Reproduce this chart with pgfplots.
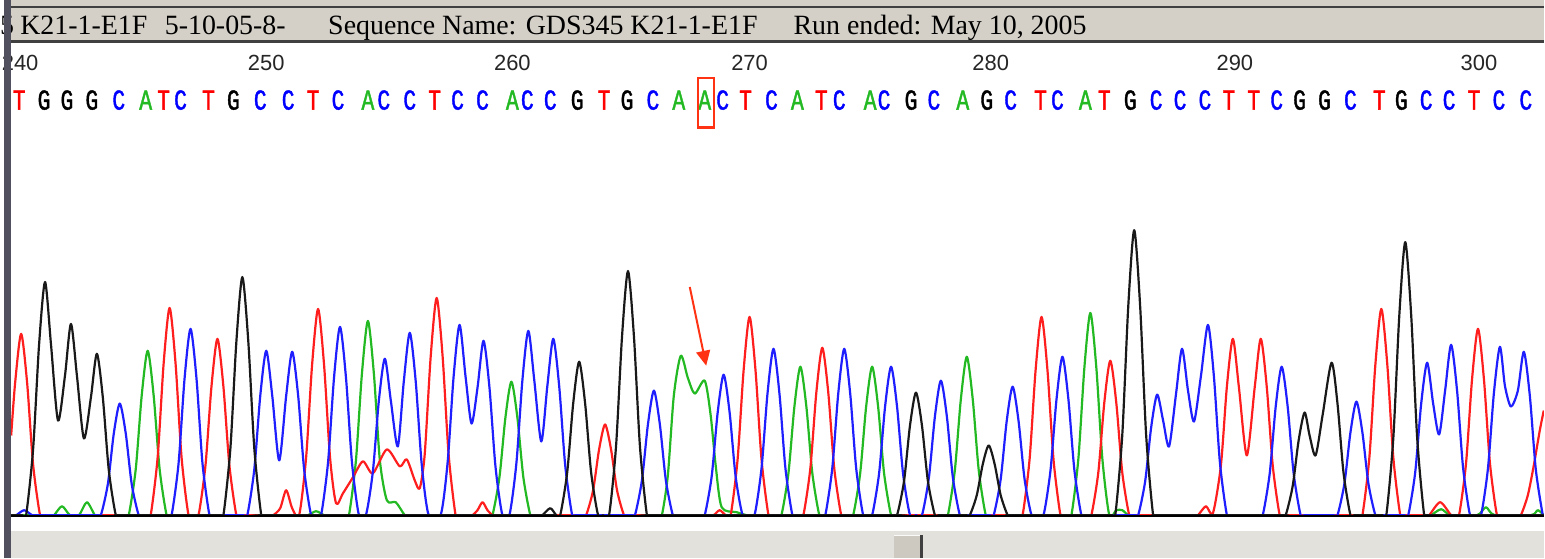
\documentclass[border=0pt]{standalone}
\usepackage{pgfplots}
\pgfplotsset{compat=1.18}
\usetikzlibrary{arrows.meta}
\usepackage{fontspec}
\newfontfamily\hdr{Liberation Serif}
\newfontfamily\numf{Liberation Sans}
\newfontfamily\basef[FakeStretch=0.74,FakeBold=1.3]{Liberation Mono}
\definecolor{cT}{RGB}{255,30,30}
\definecolor{cC}{RGB}{30,30,255}
\definecolor{cA}{RGB}{34,185,34}
\definecolor{cG}{RGB}{25,25,25}
\definecolor{hgray}{RGB}{212,208,200}
\definecolor{strip}{RGB}{80,80,94}
\definecolor{botgray}{RGB}{227,225,220}
\definecolor{thumb}{RGB}{205,201,193}
\definecolor{arr}{RGB}{255,50,20}
\newcommand\bl[3]{\node[anchor=base,inner sep=0pt,text=#3,font=\basef\fontsize{29}{29}\selectfont] at (axis cs:#1,407) {#2};}
\newcommand\nm[2]{\node[anchor=base,inner sep=0pt,text=black!85,font=\numf\fontsize{22}{22}\selectfont] at (axis cs:#1,446) {#2};}
\pgfplotsset{trace/.style={line width=2.2pt,line join=round,smooth,tension=0.45}}
\begin{document}
\begin{tikzpicture}
\begin{axis}[x=1pt,y=1pt,xmin=0,xmax=1545,ymin=-43,ymax=517,hide axis,clip=false,at={(0pt,0pt)},anchor=origin]
% backgrounds
\fill[white] (axis cs:0,-43) rectangle (axis cs:1545,517);
\fill[botgray] (axis cs:0,-43) rectangle (axis cs:1545,-16);
\fill[thumb] (axis cs:893,-43) rectangle (axis cs:921,-20);
\fill[white!90!thumb] (axis cs:893,-21) rectangle (axis cs:921,-20);
\fill[black!75] (axis cs:919,-43) rectangle (axis cs:922,-20);
\fill[hgray] (axis cs:0,474) rectangle (axis cs:1545,517);
\fill[black!75] (axis cs:0,508.5) rectangle (axis cs:1545,510.5);
\fill[black!75] (axis cs:0,474) rectangle (axis cs:1545,476.5);
% header text
\node[anchor=base east,inner sep=0pt,font=\hdr\fontsize{28}{30}\selectfont] at (axis cs:10,482) {5};
\node[anchor=base west,inner sep=0pt,font=\hdr\fontsize{28}{30}\selectfont] at (axis cs:16,482) {K21-1-E1F};
\node[anchor=base west,inner sep=0pt,font=\hdr\fontsize{28}{30}\selectfont] at (axis cs:161,482) {5-10-05-8-};
\node[anchor=base west,inner sep=0pt,font=\hdr\fontsize{28}{30}\selectfont] at (axis cs:325,482) {Sequence Name: GDS345 K21-1-E1F};
\node[anchor=base west,inner sep=0pt,font=\hdr\fontsize{28}{30}\selectfont] at (axis cs:792,482) {Run ended: May 10, 2005};
% position numbers
\nm{16}{240}\nm{263}{250}\nm{510}{260}\nm{748}{270}\nm{990}{280}\nm{1235}{290}\nm{1480}{300}
% base calls
\bl{15}{T}{red}\bl{40}{G}{black}\bl{63}{G}{black}\bl{88}{G}{black}\bl{115}{C}{blue}
\bl{142}{A}{cA}\bl{160}{T}{red}\bl{177}{C}{blue}\bl{205}{T}{red}\bl{230}{G}{black}
\bl{257}{C}{blue}\bl{285}{C}{blue}\bl{310}{T}{red}\bl{335}{C}{blue}\bl{365}{A}{cA}
\bl{381}{C}{blue}\bl{407}{C}{blue}\bl{432}{T}{red}\bl{455}{C}{blue}\bl{480}{C}{blue}
\bl{510}{A}{cA}\bl{525}{C}{blue}\bl{548}{C}{blue}\bl{575}{G}{black}\bl{602}{T}{red}
\bl{625}{G}{black}\bl{651}{C}{blue}\bl{677}{A}{cA}\bl{703}{A}{cA}\bl{721}{C}{blue}
\bl{744}{T}{red}\bl{770}{C}{blue}\bl{796}{A}{cA}\bl{820}{T}{red}\bl{838}{C}{blue}
\bl{869}{A}{cA}\bl{883}{C}{blue}\bl{910}{G}{black}\bl{933}{C}{blue}\bl{962}{A}{cA}
\bl{986}{G}{black}\bl{1010}{C}{blue}\bl{1040}{T}{red}\bl{1057}{C}{blue}\bl{1085}{A}{cA}
\bl{1104}{T}{red}\bl{1130}{G}{black}\bl{1156}{C}{blue}\bl{1180}{C}{blue}\bl{1205}{C}{blue}
\bl{1229}{T}{red}\bl{1254}{T}{red}\bl{1277}{C}{blue}\bl{1300}{G}{black}\bl{1325}{G}{black}
\bl{1351}{C}{blue}\bl{1380}{T}{red}\bl{1402}{G}{black}\bl{1427}{C}{blue}\bl{1450}{C}{blue}
\bl{1475}{T}{red}\bl{1500}{C}{blue}\bl{1527}{C}{blue}
% highlight box
\draw[line width=2.2pt,arr] (axis cs:696,389) rectangle (axis cs:712,439);
\end{axis}
\begin{axis}[x=1pt,y=1pt,xmin=0,xmax=1545,ymin=0,ymax=474,hide axis,clip mode=individual,at={(0pt,0pt)},anchor=origin]
\addplot[cA,trace] coordinates {
(7,0)(46,0)(50,0)(58,9)(66,0)(75,0)(83,13)(91,0)(95,0)
(121,0)(125,0)(132,46)(138,120)(144,165)(150,120)(156,46)(163,0)(167,0)
(301,0)(305,0)(313,4)(321,0)(325,0)
(342,0)(346,0)(353,55)(359,142)(365,195)(371,142)(377,55)(384,15)(393,13)(402,0)(406,0)
(486,0)(490,0)(497,38)(503,98)(509,134)(515,98)(521,38)(528,0)(532,0)
(656,0)(660,0)(666,40)(672,120)(679,160)(686,138)(693,122)(703,135)(709,100)(714,50)(720,8)(735,3)(745,0)(749,0)
(776,0)(780,0)(787,42)(793,109)(799,149)(805,109)(811,42)(818,0)(822,0)
(848,0)(852,0)(859,42)(865,109)(871,149)(877,109)(883,42)(890,0)(894,0)
(943,0)(947,0)(954,45)(960,116)(966,159)(972,116)(978,45)(985,0)(989,0)
(1067,0)(1071,0)(1078,57)(1084,148)(1090,203)(1096,148)(1102,57)(1109,0)(1116,5)(1122,5)(1128,0)(1132,0)
(1428,0)(1432,0)(1442,6)(1452,0)(1478,0)(1487,8)(1496,0)(1532,0)(1539,5)(1545,0)
};
\addplot[cT,trace] coordinates {
(7,80)(11,133)(17,182)(23,133)(29,51)(36,0)(40,0)
(143,0)(147,0)(154,58)(160,152)(166,208)(172,152)(178,58)(185,0)(190,0)
(195,0)(202,50)(208,129)(214,177)(220,129)(226,50)(233,0)(237,0)
(266,0)(270,0)(277,7)(283,25)(289,7)(296,0)
(303,58)(309,151)(315,207)(321,151)(327,58)(333,12)
(340,22)(350,38)(360,54)(370,42)(384,66)(397,49)(404,56)(412,35)(417,27)
(422,61)(428,159)(434,218)(440,159)(446,61)(453,0)(457,0)
(466,0)(470,0)(475,5)(480,13)(485,5)(490,0)(494,0)
(580,0)(584,0)(591,25)(597,66)(603,91)(609,66)(615,25)(622,0)(626,0)
(708,0)(712,0)(718,5)(724,0)
(729,0)(736,56)(742,145)(748,199)(754,145)(760,56)(767,0)(771,0)
(798,0)(802,0)(809,47)(815,123)(821,168)(827,123)(833,47)(840,0)(844,0)
(1018,0)(1022,0)(1029,56)(1035,145)(1041,199)(1047,145)(1053,56)(1060,0)(1064,0)
(1087,0)(1091,0)(1098,43)(1104,113)(1110,155)(1116,113)(1122,43)(1129,0)(1133,0)
(1194,0)(1198,0)(1206,9)(1213,2)
(1221,50)(1227,129)(1233,177)(1239,129)(1247,60)(1255,129)(1261,177)(1267,129)(1273,50)(1280,0)(1284,0)
(1359,0)(1363,0)(1370,58)(1376,151)(1382,207)(1388,151)(1394,58)(1401,0)(1405,0)
(1426,0)(1430,0)(1441,13)(1452,0)(1456,0)
(1460,0)(1467,52)(1473,136)(1479,187)(1485,136)(1491,52)(1498,0)(1502,0)
(1518,0)(1522,0)(1529,20)(1535,50)(1541,85)(1545,105)
};
\addplot[cC,trace] coordinates {
(7,0)(12,0)(20,5)(28,0)(32,0)
(93,0)(97,0)(104,31)(110,82)(116,112)(122,82)(128,31)(135,0)(139,0)
(164,0)(168,0)(175,52)(181,137)(187,187)(193,137)(199,52)(206,0)(210,0)
(240,0)(244,0)(251,46)(257,120)(263,165)(269,120)(276,55)(283,120)(289,164)(295,120)(301,46)(308,0)(313,0)
(318,0)(325,53)(331,138)(337,189)(343,138)(349,53)(356,0)
(363,0)(370,44)(376,115)(382,157)(388,115)(395,69)(401,134)(407,183)(413,134)(419,51)(426,0)
(438,0)(445,53)(451,139)(457,191)(463,139)(469,92)(475,128)(481,175)(487,128)(493,49)(500,0)
(507,0)(514,52)(520,135)(526,185)(532,135)(539,74)(545,129)(551,177)(557,129)(563,50)(570,0)(574,0)
(629,0)(633,0)(640,35)(646,91)(652,125)(658,91)(664,35)(671,0)(675,0)
(699,0)(703,0)(710,39)(716,103)(722,141)(728,103)(734,39)(741,0)(747,0)
(753,0)(760,47)(766,122)(772,167)(778,122)(784,47)(791,0)(795,0)
(820,0)(824,0)(831,47)(837,122)(843,167)(849,122)(855,47)(862,0)(866,0)
(871,0)(878,42)(884,109)(890,149)(896,109)(902,42)(909,0)(915,0)
(921,0)(928,38)(934,99)(940,135)(946,99)(952,38)(959,0)(963,0)
(989,0)(993,0)(1000,36)(1006,94)(1012,129)(1018,94)(1024,36)(1031,0)(1037,0)
(1043,0)(1050,45)(1056,116)(1062,159)(1068,116)(1074,45)(1081,0)(1085,0)
(1134,0)(1138,0)(1145,34)(1151,88)(1157,121)(1163,95)(1169,69)(1176,122)(1182,167)(1188,125)(1194,94)(1201,140)(1208,191)(1214,139)(1220,53)(1227,0)(1231,0)
(1259,0)(1263,0)(1270,42)(1276,109)(1282,149)(1288,109)(1294,42)(1301,0)(1305,0)
(1334,0)(1338,0)(1345,32)(1351,83)(1357,114)(1363,83)(1369,32)(1376,0)(1380,0)
(1405,0)(1409,0)(1416,43)(1422,112)(1428,153)(1434,112)(1440,81)(1446,125)(1452,171)(1458,125)(1464,48)(1471,0)(1476,0)
(1482,0)(1489,47)(1495,123)(1501,169)(1506,130)(1512,109)(1519,125)(1525,164)(1531,120)(1537,46)(1544,0)(1545,0)
};
\addplot[cG,trace] coordinates {
(7,0)(18,0)(22,0)(29,66)(35,171)(41,234)(47,171)(54,95)(61,140)(67,192)(73,140)(80,77)(87,118)(93,162)(99,118)(105,45)(112,0)(116,0)
(216,0)(220,0)(227,67)(233,174)(239,239)(245,174)(251,67)(258,0)(262,0)
(536,0)(540,0)(548,7)(554,0)
(558,0)(565,43)(571,112)(577,154)(583,112)(589,43)(596,0)(601,0)
(607,0)(614,69)(620,179)(626,245)(632,179)(638,69)(645,0)(649,0)
(892,0)(896,0)(903,34)(909,90)(915,123)(921,90)(927,34)(934,0)(938,0)
(965,0)(969,0)(976,20)(982,51)(988,70)(994,51)(1000,20)(1007,0)(1011,0)
(1111,0)(1115,0)(1122,80)(1128,209)(1134,286)(1140,209)(1146,80)(1153,0)(1157,0)
(1282,0)(1286,0)(1293,29)(1299,75)(1305,103)(1310,80)(1316,60)(1323,100)(1332,153)(1338,112)(1344,43)(1351,0)(1355,0)
(1383,0)(1387,0)(1394,77)(1400,200)(1406,274)(1412,200)(1418,77)(1425,0)(1429,0)(1545,0)
};
% baseline
\draw[line width=2.5pt,black] (axis cs:7,-1) -- (axis cs:1545,-1);
% arrow
\draw[line width=2pt,arr,-{Triangle[length=15pt,width=14pt]}] (axis cs:688,229) -- (axis cs:704.5,150);
% left strip
\fill[strip] (axis cs:0,-43) rectangle (axis cs:6.5,517);
\end{axis}
\end{tikzpicture}
\end{document}
